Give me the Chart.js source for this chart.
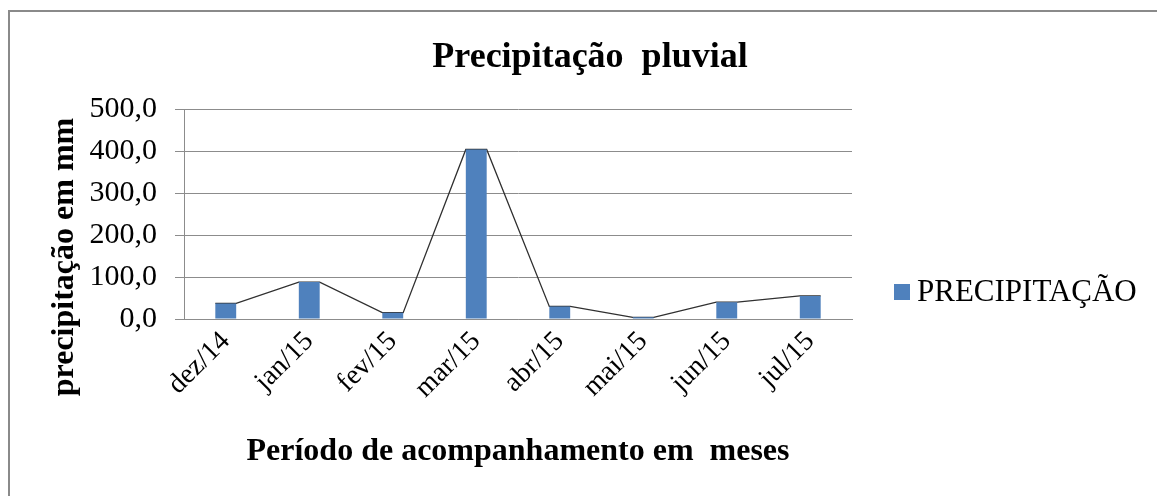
<!DOCTYPE html>
<html>
<head>
<meta charset="utf-8">
<script src="https://cdn.jsdelivr.net/npm/chart.js@4/dist/chart.umd.min.js"></script>
<style>
  body { margin: 0; background: #fff; }
  #wrap { position: relative; width: 1157px; height: 496px; overflow: hidden; }
  #frame { position: absolute; left: 8px; top: 10px; width: 1200px; height: 600px;
           border-left: 2px solid #8a8a8a; border-top: 2px solid #8a8a8a; }
  #legend { position: absolute; left: 894px; top: 272px; font-family: "Liberation Serif", serif;
            font-size: 31px; color: #000; white-space: nowrap; line-height: 38px; }
  #legend span.box { display: inline-block; width: 16px; height: 16px; background: #4f81bd;
                     margin-right: 7px; vertical-align: 1px; }
  canvas { position: absolute; left: 0; top: 0; }
</style>
</head>
<body>
<div id="wrap">
  <div id="frame"></div>
  <canvas id="canvas" width="1157" height="496"></canvas>
  <div id="legend"><span class="box"></span>PRECIPITAÇÃO</div>
</div>
<script>
// data
var months = ['dez/14', 'jan/15', 'fev/15', 'mar/15', 'abr/15', 'mai/15', 'jun/15', 'jul/15'];
var rain = [37, 88, 15, 404, 30, 4, 40, 55];
var yTicks = [0, 100, 200, 300, 400, 500];

var serif = '"Liberation Serif", "Times New Roman", serif';
var gridGray = '#8c8c8c';
var yTitle = 'precipitação em mm';

// the thin line runs across the top of each bar, so give it two points per month
var halfBar = 0.125;
var linePts = [];
rain.forEach(function (v, i) {
    linePts.push({ x: i - halfBar, y: v });
    linePts.push({ x: i + halfBar, y: v });
});

// y axis title sits lower than the axis middle in the original, draw it by hand
var yTitlePlugin = {
    id: 'yTitle',
    afterDraw: function (chart) {
        var c = chart.ctx;
        c.save();
        c.translate(65, 257);
        c.rotate(-Math.PI / 2);
        c.font = 'bold 32px ' + serif;
        c.fillStyle = '#000';
        c.textAlign = 'center';
        c.textBaseline = 'middle';
        c.fillText(yTitle, 0, 0);
        c.restore();
    }
};

var config = {
    data: {
        labels: months,
        datasets: [
            {
                type: 'bar',
                label: 'PRECIPITAÇÃO',
                data: rain,
                backgroundColor: '#4f81bd',
                grouped: false,
                barPercentage: 0.5,
                categoryPercentage: 0.5,
                order: 1
            },
            {
                type: 'line',
                label: 'linha',
                data: linePts,
                xAxisID: 'xl',
                borderColor: '#303030',
                borderWidth: 1.3,
                pointRadius: 0,
                fill: false,
                tension: 0,
                order: 2
            }
        ]
    },
    options: {
        responsive: false,
        animation: false,
        layout: { padding: { left: 46, right: 23, top: 0, bottom: 25 } },
        plugins: {
            legend: { display: false },
            tooltip: { enabled: false },
            title: {
                display: true,
                text: 'Precipitação  pluvial',
                color: '#000',
                font: { family: serif, size: 36, weight: 'bold' },
                padding: { top: 36, bottom: 30 }
            }
        },
        scales: {
            x: {
                type: 'category',
                offset: true,
                grid: { display: false },
                border: { display: true, color: gridGray, width: 1 },
                ticks: {
                    color: '#000',
                    font: { family: serif, size: 28 },
                    minRotation: 45,
                    maxRotation: 45,
                    padding: -2
                },
                title: {
                    display: true,
                    text: 'Período de acompanhamento em  meses',
                    color: '#000',
                    font: { family: serif, size: 32, weight: 'bold' },
                    padding: { top: 0, bottom: 0 }
                },
                afterFit: function (scale) { scale.height = 152; }
            },
            xl: {
                type: 'linear',
                display: false,
                min: -0.5,
                max: 7.5
            },
            y: {
                min: 0,
                max: 500,
                afterBuildTicks: function (scale) {
                    scale.ticks = yTicks.map(function (v) { return { value: v }; });
                },
                grid: { color: gridGray, lineWidth: 1, tickLength: 9 },
                border: { display: true, color: gridGray, width: 1 },
                ticks: {
                    color: '#000',
                    font: { family: serif, size: 30 },
                    padding: 18,
                    callback: function (v) { return v.toFixed(1).replace('.', ','); }
                },
                afterFit: function (scale) { scale.width = 138; }
            },
            // empty axis on the right only keeps room for the legend
            yr: {
                type: 'linear',
                position: 'right',
                grid: { display: false },
                border: { display: false },
                ticks: { display: false },
                afterFit: function (scale) { scale.width = 282; }
            }
        }
    },
    plugins: [yTitlePlugin]
};

var ctx = document.getElementById('canvas').getContext('2d');
window.myChart = new Chart(ctx, config);
</script>
</body>
</html>
